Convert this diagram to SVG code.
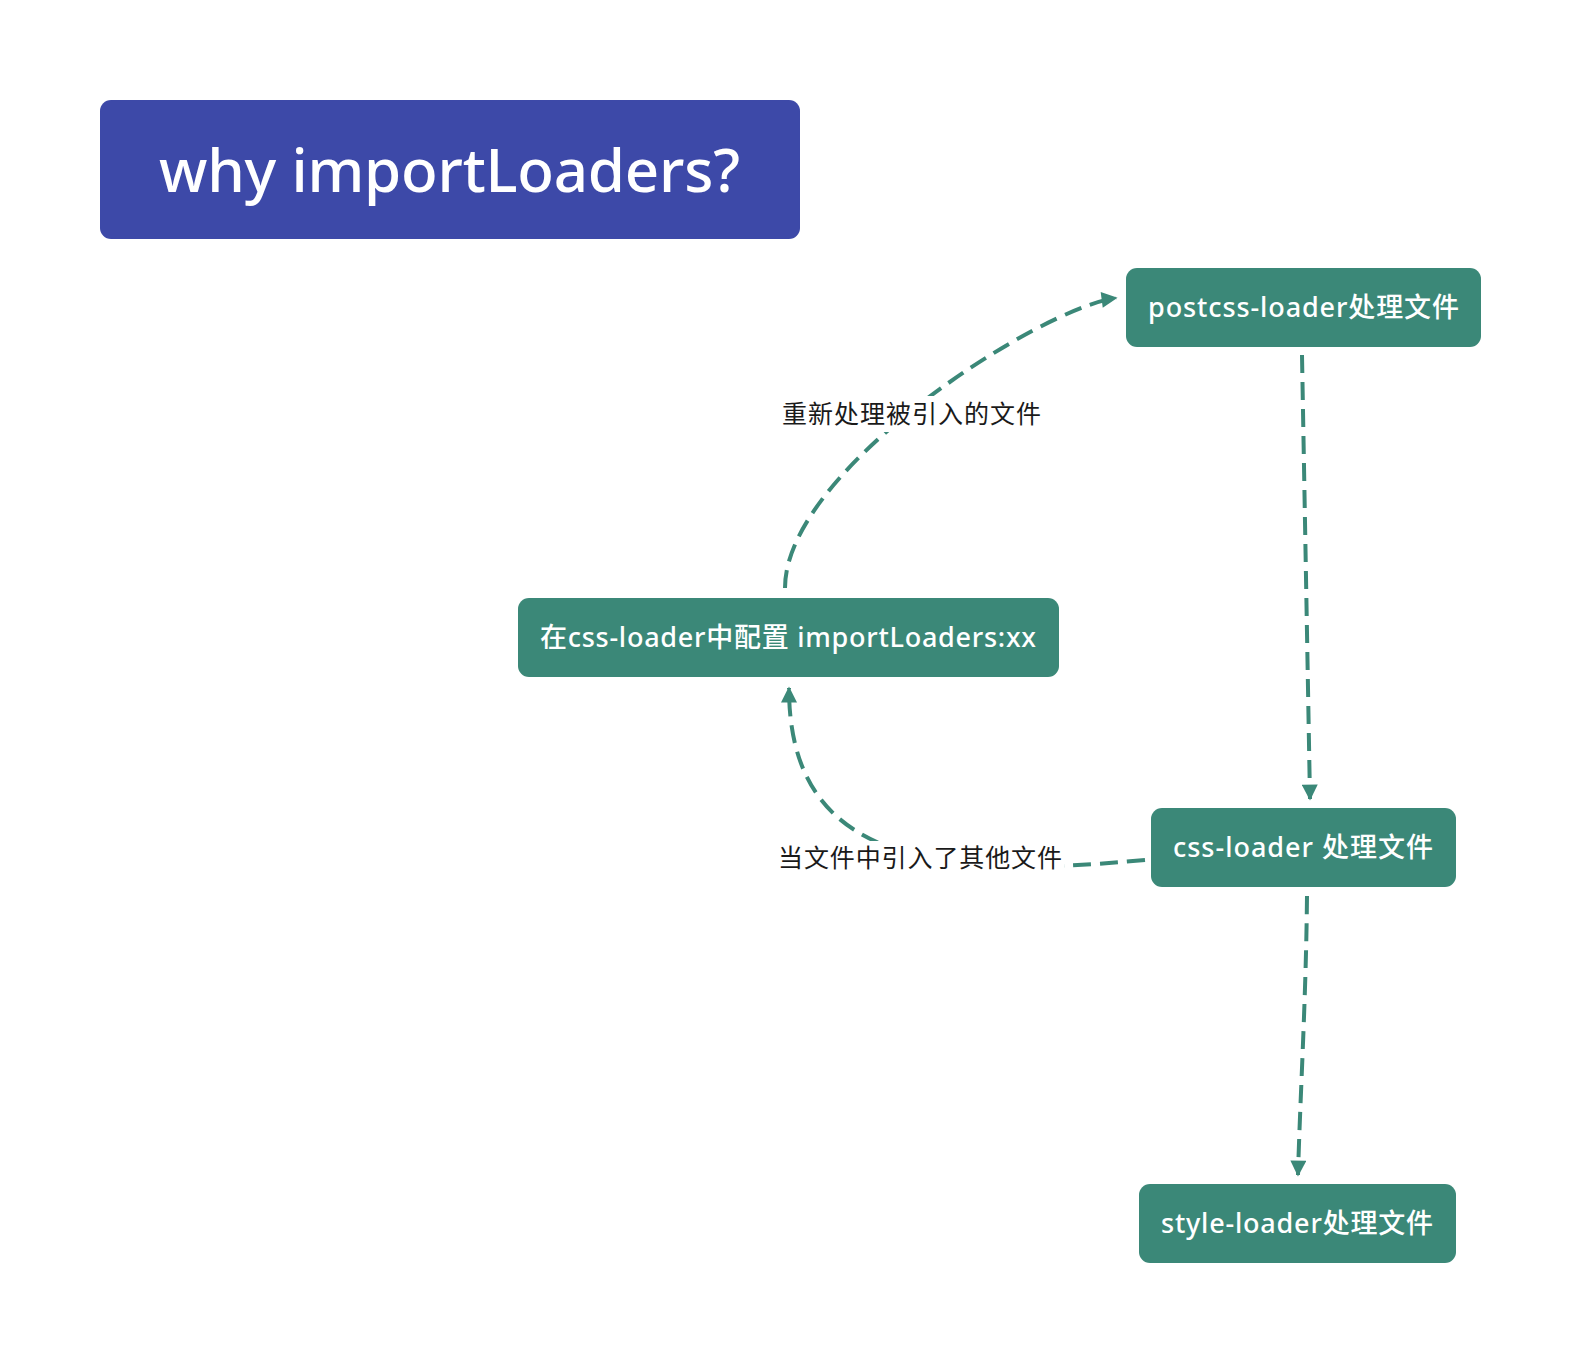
<svg xmlns="http://www.w3.org/2000/svg" width="1582" height="1364" viewBox="0 0 1582 1364">
<defs>
<style>
.node rect{fill:#3b8878}
.ntext{font-family:"Noto Sans","Noto Sans CJK SC",sans-serif;font-weight:500;font-size:27px;fill:#ffffff}
.title rect{fill:#3d49a8}
.ttext{font-family:"Noto Sans","Noto Sans CJK SC",sans-serif;font-weight:500;font-size:60px;fill:#ffffff}
.edge{fill:none;stroke:#3b8878;stroke-width:4;stroke-dasharray:18 9}
.lbg{fill:#ffffff}
.ltext{font-family:"Noto Sans CJK SC","Noto Sans",sans-serif;font-size:25px;fill:#1a1a1a}
</style>
<marker id="arr" viewBox="0 0 10 10" refX="9" refY="5" markerUnits="userSpaceOnUse" markerWidth="17" markerHeight="16" orient="auto">
<path d="M0,0 L10,5 L0,10 z" fill="#3b8878"/>
</marker>
</defs>
<rect width="1582" height="1364" fill="#ffffff"/>
<g id="title" class="title">
<rect x="100" y="100" width="700" height="139" rx="11"/>
<text class="ttext" x="159" y="192" textLength="581">why importLoaders?</text>
</g>
<g id="connectors">
<path class="edge" d="M785,588 C785,470 1040,308 1116,298" marker-end="url(#arr)"/>
<path class="edge" d="M1145,860 C930,880 789,860 789,688" marker-end="url(#arr)"/>
<path class="edge" d="M1302,355 L1310,799" marker-end="url(#arr)"/>
<path class="edge" d="M1307,896 C1306,1000 1300,1100 1298,1175" marker-end="url(#arr)"/>
<g id="label1">
<rect class="lbg" x="779" y="396" width="265" height="36"/>
<text class="ltext" x="782" y="423" textLength="259">重新处理被引入的文件</text>
</g>
<g id="label2">
<rect class="lbg" x="775" y="841" width="289" height="35"/>
<text class="ltext" x="778" y="867" textLength="284">当文件中引入了其他文件</text>
</g>
</g>
<g id="n-postcss" class="node">
<rect x="1126" y="268" width="355" height="79" rx="11"/>
<text class="ntext" x="1148" y="317" textLength="311">postcss-loader处理文件</text>
</g>
<g id="n-config" class="node">
<rect x="518" y="598" width="541" height="79" rx="11"/>
<text class="ntext" x="540" y="647" textLength="496">在css-loader中配置 importLoaders:xx</text>
</g>
<g id="n-css" class="node">
<rect x="1151" y="808" width="305" height="79" rx="11"/>
<text class="ntext" x="1173" y="857" textLength="260">css-loader 处理文件</text>
</g>
<g id="n-style" class="node">
<rect x="1139" y="1184" width="317" height="79" rx="11"/>
<text class="ntext" x="1161" y="1233" textLength="272">style-loader处理文件</text>
</g>
</svg>
